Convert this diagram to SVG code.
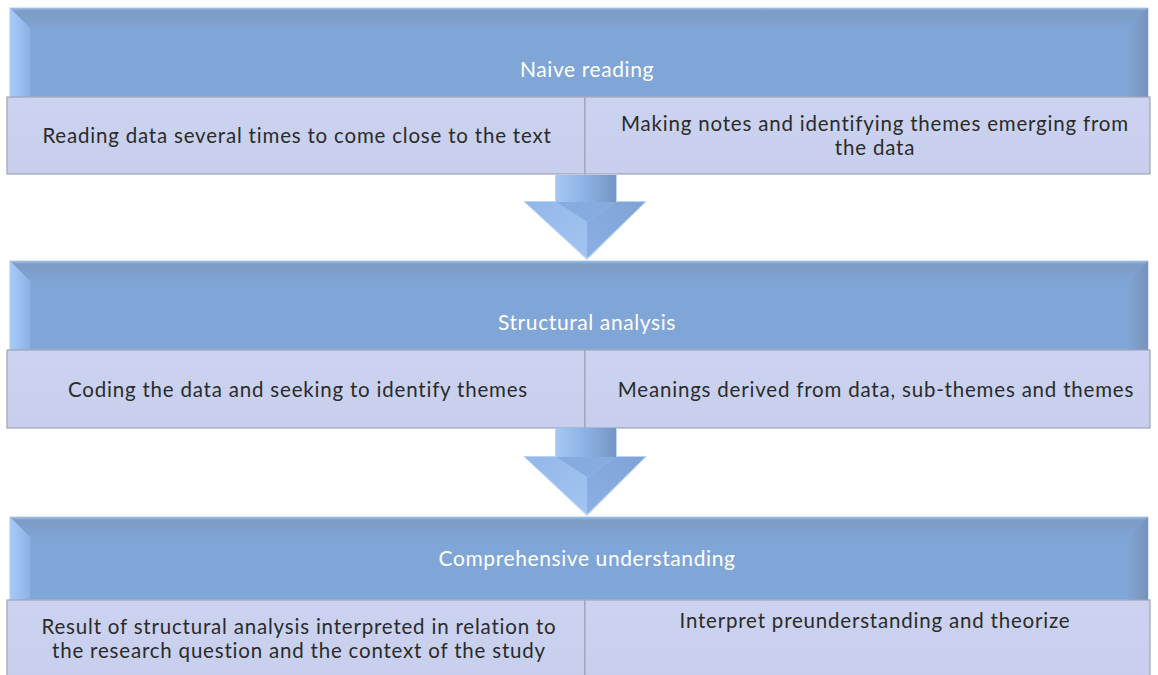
<svg xmlns="http://www.w3.org/2000/svg" width="1158" height="675" viewBox="0 0 1158 675">
  <defs>
    <linearGradient id="hdrTop" x1="0" y1="0" x2="0" y2="1">
      <stop offset="0" stop-color="#9cc0ef"/>
      <stop offset="0.15" stop-color="#7d9ac2"/>
      <stop offset="1" stop-color="#7fa3d3"/>
    </linearGradient>
    <linearGradient id="hdrLeft" x1="0" y1="0" x2="1" y2="0">
      <stop offset="0" stop-color="#a7caf8"/>
      <stop offset="1" stop-color="#8cb2e6"/>
    </linearGradient>
    <linearGradient id="hdrRight" x1="0" y1="0" x2="1" y2="0">
      <stop offset="0" stop-color="#80a5d5"/>
      <stop offset="1" stop-color="#7892b8"/>
    </linearGradient>
    <linearGradient id="subFill" x1="0" y1="0" x2="0" y2="1">
      <stop offset="0" stop-color="#cbd3f0"/>
      <stop offset="1" stop-color="#c7cfed"/>
    </linearGradient>
    <linearGradient id="shaft" x1="0" y1="0" x2="1" y2="0">
      <stop offset="0" stop-color="#a6c7f3"/>
      <stop offset="0.45" stop-color="#8fb3e6"/>
      <stop offset="1" stop-color="#7595c4"/>
    </linearGradient>
    <linearGradient id="headL" x1="0" y1="0" x2="1" y2="1">
      <stop offset="0" stop-color="#93b7ea"/>
      <stop offset="1" stop-color="#a3c4f1"/>
    </linearGradient>
    <linearGradient id="headR" x1="1" y1="0" x2="0" y2="1">
      <stop offset="0" stop-color="#7fa3d6"/>
      <stop offset="1" stop-color="#8aafe2"/>
    </linearGradient>
    <filter id="soft" x="-5%" y="-5%" width="110%" height="110%">
      <feGaussianBlur stdDeviation="0.6"/>
    </filter>
  </defs>
  <style>
    .hdr-text { font-family: Lato, "Open Sans", "Liberation Sans", sans-serif; font-size: 21px; letter-spacing: 0.6px; fill: #ffffff; text-anchor: middle; }
    .sub-text { font-family: Lato, "Open Sans", "Liberation Sans", sans-serif; font-size: 20.5px; letter-spacing: 0.8px; fill: #2b2b2b; text-anchor: middle; }
    .sub { fill: url(#subFill); stroke: #9ea3b6; stroke-width: 1.2; }
  </style>

  <rect width="1158" height="675" fill="#ffffff"/>

  <!-- Stage 1: Naive reading -->
  <g id="stage-naive">
    <rect x="10" y="8" width="1138" height="89" fill="#80a6d7" stroke="#b7cce6" stroke-width="1"/>
    <polygon points="10,8 1148,8 1128,28 30,28" fill="url(#hdrTop)" opacity="0.9"/>
    <polygon points="10,8 30,28 30,97 10,97" fill="url(#hdrLeft)"/>
    <polygon points="1148,8 1148,97 1128,97 1128,28" fill="url(#hdrRight)"/>
    <text class="hdr-text" x="587" y="77">Naive reading</text>
    <rect class="sub" x="7" y="97" width="578" height="77"/>
    <rect class="sub" x="585" y="97" width="565" height="77"/>
    <text class="sub-text" x="297" y="143">Reading data several times to come close to the text</text>
    <text class="sub-text" x="875" y="131">Making notes and identifying themes emerging from</text>
    <text class="sub-text" x="875" y="155">the data</text>
  </g>

  <!-- Stage 2: Structural analysis -->
  <g id="stage-structural">
    <rect x="10" y="261" width="1138" height="89" fill="#80a6d7" stroke="#b7cce6" stroke-width="1"/>
    <polygon points="10,261 1148,261 1128,281 30,281" fill="url(#hdrTop)" opacity="0.9"/>
    <polygon points="10,261 30,281 30,350 10,350" fill="url(#hdrLeft)"/>
    <polygon points="1148,261 1148,350 1128,350 1128,281" fill="url(#hdrRight)"/>
    <text class="hdr-text" x="587" y="330">Structural analysis</text>
    <rect class="sub" x="7" y="350" width="578" height="78"/>
    <rect class="sub" x="585" y="350" width="565" height="78"/>
    <text class="sub-text" x="298" y="397">Coding the data and seeking to identify themes</text>
    <text class="sub-text" x="876" y="397">Meanings derived from data, sub-themes and themes</text>
  </g>

  <!-- Stage 3: Comprehensive understanding -->
  <g id="stage-comprehensive">
    <rect x="10" y="517" width="1138" height="83" fill="#80a6d7" stroke="#b7cce6" stroke-width="1"/>
    <polygon points="10,517 1148,517 1128,537 30,537" fill="url(#hdrTop)" opacity="0.9"/>
    <polygon points="10,517 30,537 30,600 10,600" fill="url(#hdrLeft)"/>
    <polygon points="1148,517 1148,600 1128,600 1128,537" fill="url(#hdrRight)"/>
    <text class="hdr-text" x="587" y="566">Comprehensive understanding</text>
    <rect class="sub" x="7" y="600" width="578" height="80"/>
    <rect class="sub" x="585" y="600" width="565" height="80"/>
    <text class="sub-text" x="299" y="634">Result of structural analysis interpreted in relation to</text>
    <text class="sub-text" x="299" y="658">the research question and the context of the study</text>
    <text class="sub-text" x="875" y="628">Interpret preunderstanding and theorize</text>
  </g>

  <!-- Block arrows between stages -->
  <g id="connectors">
    <g id="arrow-1" filter="url(#soft)">
      <polygon points="555,175 617,175 617,201 647,201 587,260 523,201 555,201" fill="#b9d4f6"/>
      <rect x="556" y="175" width="60" height="28" fill="url(#shaft)"/>
      <polygon points="525,202 556,202 587,222 587,258" fill="url(#headL)"/>
      <polygon points="645,202 616,202 587,222 587,258" fill="url(#headR)"/>
      <polygon points="556,202 616,202 587,222" fill="#86abdf"/>
    </g>
    <g id="arrow-2" filter="url(#soft)">
      <polygon points="555,428 617,428 617,456 647,456 587,516 523,456 555,456" fill="#b9d4f6"/>
      <rect x="556" y="428" width="60" height="30" fill="url(#shaft)"/>
      <polygon points="525,457 556,457 587,477 587,514" fill="url(#headL)"/>
      <polygon points="645,457 616,457 587,477 587,514" fill="url(#headR)"/>
      <polygon points="556,457 616,457 587,477" fill="#86abdf"/>
    </g>
  </g>
</svg>
